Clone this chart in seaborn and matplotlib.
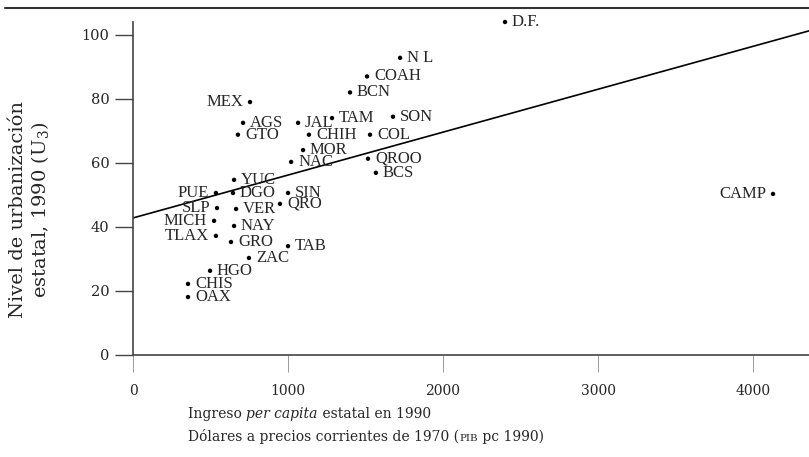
import matplotlib
matplotlib.use("Agg")
import matplotlib.pyplot as plt
from matplotlib.lines import Line2D
from matplotlib.offsetbox import TextArea, HPacker, VPacker, AnchoredOffsetbox
import numpy as np
import pandas as pd
import seaborn as sns

# datos
estados = ["D.F.", "N L", "COAH", "BCN", "MEX", "AGS", "JAL", "TAM", "SON",
           "GTO", "CHIH", "COL", "MOR", "NAC", "QROO", "BCS", "YUC", "PUE",
           "DGO", "SIN", "SLP", "VER", "QRO", "MICH", "NAY", "TLAX", "GRO",
           "TAB", "ZAC", "HGO", "CHIS", "OAX", "CAMP"]
ingreso = [2400, 1723, 1510, 1400, 755, 710, 1065, 1284, 1677,
           677, 1135, 1529, 1097, 1020, 1516, 1567, 652, 535,
           645, 1000, 542, 665, 948, 523, 652, 535, 632,
           1000, 748, 497, 355, 355, 4129]
urbanizacion = [104, 92.8, 87, 82, 79, 72.5, 72.5, 74, 74.4,
                68.8, 68.8, 68.8, 64, 60.3, 61.3, 56.9, 54.7, 50.6,
                50.6, 50.6, 45.9, 45.6, 47.2, 41.9, 40.3, 37.2, 35.3,
                34, 30.3, 26.3, 22.2, 18.1, 50.3]
lado = ["r", "r", "r", "r", "l", "r", "r", "r", "r",
        "r", "r", "r", "r", "r", "r", "r", "r", "l",
        "r", "r", "l", "r", "r", "l", "r", "l", "r",
        "r", "r", "r", "r", "r", "l"]
# recta de ajuste (ordenada y pendiente leidas)
ordenada = 42.8
pendiente = 0.0134

xticks = [0, 1000, 2000, 3000, 4000]
yticks = [0, 20, 40, 60, 80, 100]

df = pd.DataFrame({"estado": estados, "ingreso": ingreso, "urb": urbanizacion, "lado": lado})

sns.set_style("ticks")
plt.rcParams["font.family"] = ["DejaVu Serif"]
plt.rcParams["mathtext.fontset"] = "dejavuserif"

fig = plt.figure(figsize=(8.09, 4.57), dpi=100)
ax = fig.add_axes([133 / 809, 102 / 457, 676 / 809, 333 / 457])

xmax = 4361
xr = np.array([0, xmax])
sns.lineplot(x=xr, y=ordenada + pendiente * xr, color="black", lw=1.2, ax=ax)
sns.scatterplot(data=df, x="ingreso", y="urb", color="black", s=10,
                edgecolor="none", ax=ax, clip_on=False, zorder=3)

for _, r in df.iterrows():
    if r["lado"] == "r":
        ax.annotate(r["estado"], (r["ingreso"], r["urb"]), xytext=(5, 0),
                    textcoords="offset points", ha="left", va="center",
                    fontsize=12, family="Liberation Serif", annotation_clip=False)
    else:
        ax.annotate(r["estado"], (r["ingreso"], r["urb"]), xytext=(-5, 0),
                    textcoords="offset points", ha="right", va="center",
                    fontsize=12, family="Liberation Serif", annotation_clip=False)

ax.set_xlim(0, xmax)
ax.set_ylim(0, 104)
ax.set_xticks(xticks)
ax.set_yticks(yticks)
ax.set_xlabel("")
ax.set_ylabel("")
ax.tick_params(axis="y", direction="out", length=13, width=1, color="#444444",
               labelsize=10.5, pad=4)
ax.tick_params(axis="x", direction="out", length=12, width=0.7, color="#999999",
               labelsize=10, pad=9)
for s in ["top", "right"]:
    ax.spines[s].set_visible(False)
for s in ["left", "bottom"]:
    ax.spines[s].set_color("#444444")
    ax.spines[s].set_linewidth(1.2)

# linea superior del marco
fig.add_artist(Line2D([5 / 809, 1], [1 - 8 / 457, 1 - 8 / 457], color="#333333", lw=1.5))

# titulo del eje y
fig.text(30 / 809, 1 - 210 / 457,
         "Nivel de urbanización\nestatal, 1990 ($\\mathrm{U}_3$)",
         rotation=90, ha="center", va="center", multialignment="center",
         fontsize=14, linespacing=1.1)

# titulo del eje x
fs = 10
l1 = HPacker(children=[TextArea("Ingreso ", textprops=dict(size=fs)),
                       TextArea("per capita", textprops=dict(size=fs, style="italic")),
                       TextArea(" estatal en 1990", textprops=dict(size=fs))],
             pad=0, sep=0, align="baseline")
l2 = HPacker(children=[TextArea("Dólares a precios corrientes de 1970 (", textprops=dict(size=fs)),
                       TextArea("PIB", textprops=dict(size=fs * 0.75)),
                       TextArea(" pc 1990)", textprops=dict(size=fs))],
             pad=0, sep=0, align="baseline")
caja = VPacker(children=[l1, l2], pad=0, sep=6, align="left")
anc = AnchoredOffsetbox(loc="upper left", child=caja, pad=0, frameon=False,
                        bbox_to_anchor=(188 / 809, 1 - 407 / 457),
                        bbox_transform=fig.transFigure, borderpad=0)
fig.add_artist(anc)

fig.savefig("out.png", dpi=100)
